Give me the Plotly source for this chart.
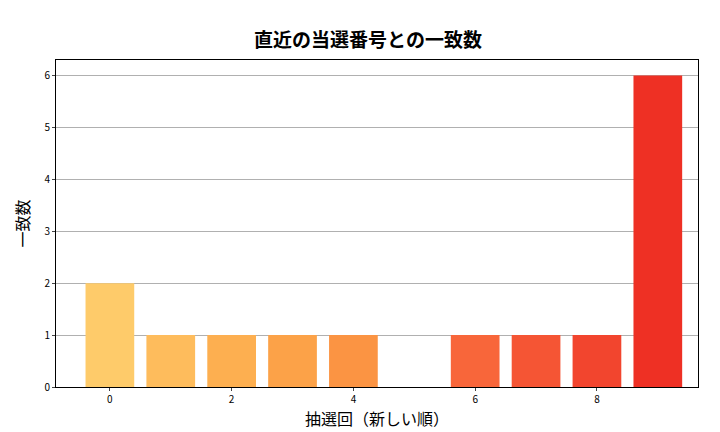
import plotly.graph_objects as go

draws = list(range(10))
matches = [2, 1, 1, 1, 1, 0, 1, 1, 1, 6]
bar_colors = ["#FECB6A", "#FEBC5C", "#FDAF50", "#FCA248", "#FB9443",
              "#F98540", "#F8663A", "#F55534", "#F2452E", "#EE3024"]

FONT = "Noto Sans CJK JP"

fig = go.Figure(go.Bar(x=draws, y=matches, width=0.8, marker_color=bar_colors,
                       marker_line_width=0))
fig.update_layout(
    width=720, height=432,
    paper_bgcolor="white", plot_bgcolor="white",
    font=dict(family=FONT, color="black", size=10),
    title=dict(text="<b>直近の当選番号との一致数</b>", x=0.5, y=0.94,
               xanchor="center", font=dict(size=19)),
    margin=dict(l=48, r=30, t=52, b=53),
    showlegend=False,
)
fig.update_xaxes(range=[-0.885, 9.66], tickvals=[0, 2, 4, 6, 8], automargin=False,
                 showgrid=False, showline=True, mirror=True, linecolor="black",
                 ticks="outside", ticklen=3,
                 title=dict(text="抽選回（新しい順）", font=dict(size=16), standoff=6))
fig.update_yaxes(range=[0, 6.3], dtick=1, showgrid=True, gridcolor="#b0b0b0",
                 showline=True, mirror=True, linecolor="black", zeroline=False,
                 ticks="outside", ticklen=3, automargin=False,
                 title=dict(text="一致数", font=dict(size=16), standoff=10))
fig.write_html("out.html")
